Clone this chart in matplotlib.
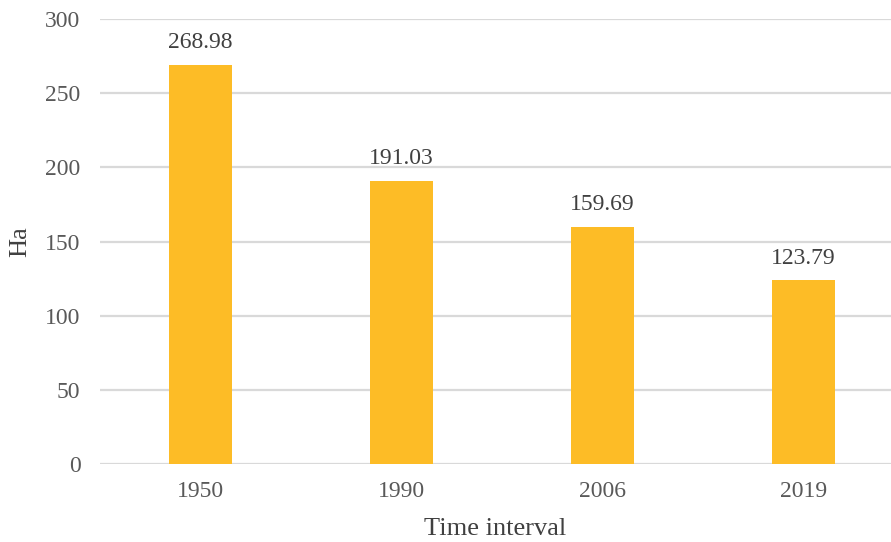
import matplotlib.pyplot as plt

years = ["1950", "1990", "2006", "2019"]
area_ha = [268.98, 191.03, 159.69, 123.79]

plt.rcParams['font.family'] = ['Liberation Serif', 'DejaVu Serif']

fig = plt.figure(figsize=(8.91, 5.42), dpi=100)
ax = fig.add_axes([100 / 891, 78 / 542, 791 / 891, 445 / 542])

x = range(len(years))
ax.bar(x, area_ha, width=0.31, color="#FDBC26", zorder=3)
for i, v in zip(x, area_ha):
    ax.text(i, v + 8, f"{v:.2f}", ha="center", va="bottom", fontsize=17, color="#404040")

ax.set_xlim(-0.5, -0.5 + 791 / 201)
ax.set_ylim(0, 300)
ax.set_yticks(range(0, 301, 50))
ax.set_xticks(list(x))
ax.set_xticklabels(years)
ax.grid(axis="y", color="#D9D9D9", linewidth=1.6, zorder=0)
ax.tick_params(length=0, labelsize=17, colors="#595959")
ax.tick_params(axis="x", pad=12)
ax.tick_params(axis="y", pad=14)
for s in ax.spines.values():
    s.set_visible(False)
ax.set_xlabel("Time interval", fontsize=19, color="#404040", labelpad=12)
ax.set_ylabel("Ha", fontsize=19, color="#404040", labelpad=10)

fig.savefig("out.png", dpi=100)
